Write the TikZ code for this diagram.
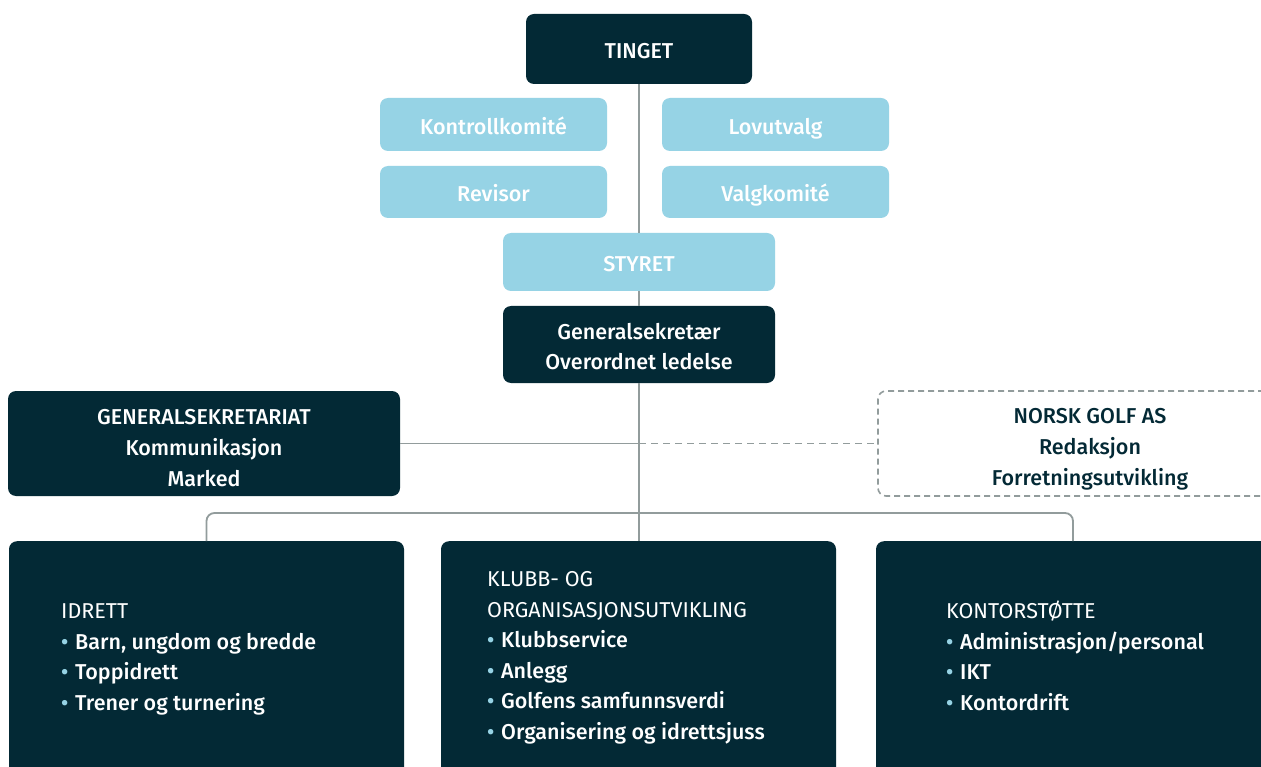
\documentclass[tikz,border=0pt]{standalone}
\usepackage{fontspec}
\setmainfont{Fira Sans}
\newfontfamily\med{Fira Sans Medium}
\definecolor{navy}{HTML}{032935}
\definecolor{lblue}{HTML}{96D3E5}
\definecolor{lgray}{HTML}{929C9C}
\newcommand{\itm}[1]{\strut\makebox[14pt][l]{\textcolor{lblue}{•}}#1}
\newcommand{\bs}{\rule[-5.5pt]{0pt}{31pt}}
\newcommand{\bsb}{\rule[-4pt]{0pt}{31pt}}
\newcommand{\bse}{\rule[-4pt]{0pt}{29.5pt}}
\tikzset{
  box/.style={rounded corners=8pt, inner sep=0pt, align=center, font=\med\fontsize{21.5}{31}\selectfont},
  darkbox/.style={box, fill=navy, text=white},
  lightbox/.style={box, fill=lblue, text=white},
  dashbox/.style={box, draw=lgray, line width=1.6pt, dash pattern=on 6pt off 4pt, text=navy},
  conn/.style={draw=lgray, line width=1.8pt},
  dconn/.style={conn, dash pattern=on 7pt off 5pt},
  list/.style={anchor=north west, inner sep=0pt, align=left, text=white, font=\fontsize{21.5}{30.5}\selectfont},
}
\begin{document}
\begin{tikzpicture}[x=1pt,y=-1pt]
\clip (0,0) rectangle (1261,767);
\fill[white] (0,0) rectangle (1261,767);
% top
\node[darkbox, minimum width=226pt, minimum height=70pt] (tinget) at (639,49) {\bs TINGET};
\node[lightbox, minimum width=227pt, minimum height=53pt] (kontroll) at (493.5,124.5) {\bs Kontrollkomité};
\node[lightbox, minimum width=227pt, minimum height=53pt] (lov) at (775.5,124.5) {\bs Lovutvalg};
\node[lightbox, minimum width=227pt, minimum height=52pt] (revisor) at (493.5,192) {\bs Revisor};
\node[lightbox, minimum width=227pt, minimum height=52pt] (valg) at (775.5,192) {\bs Valgkomité};
\node[lightbox, minimum width=272pt, minimum height=58pt] (styret) at (639,262) {\bs STYRET};
\node[darkbox, minimum width=272pt, minimum height=77pt] (gs) at (639,344.5) {\bs Generalsekretær\\\bs Overordnet ledelse};
% middle
\node[darkbox, minimum width=392pt, minimum height=105pt] (gsek) at (204,443.5) {\bsb GENERALSEKRETARIAT\\\bs Kommunikasjon\\\bse Marked};
\node[dashbox, minimum width=424pt, minimum height=105pt] (golf) at (1090,443.5) {\bsb NORSK GOLF AS\\\bs Redaksjon\\\bse Forretningsutvikling};
% bottom boxes (extend past the page edge)
\node[darkbox, minimum width=395pt, minimum height=260pt, anchor=north] (idrett) at (206.5,541) {};
\node[darkbox, minimum width=395pt, minimum height=260pt, anchor=north] (klubb) at (638.5,541) {};
\node[darkbox, minimum width=394pt, minimum height=260pt, anchor=north] (kontor) at (1073,541) {};
\node[list] (idrettT) at (61,597) {\strut IDRETT\\\med\itm{Barn, ungdom og bredde}\\\med\itm{Toppidrett}\\\med\itm{Trener og turnering}};
\node[list] (klubbT) at (487,565) {\strut KLUBB- OG\\\strut ORGANISASJONSUTVIKLING\\\med\itm{Klubbservice}\\\med\itm{Anlegg}\\\med\itm{Golfens samfunnsverdi}\\\med\itm{Organisering og idrettsjuss}};
\node[list] (kontorT) at (946,597) {\strut KONTORSTØTTE\\\med\itm{Administrasjon/personal}\\\med\itm{IKT}\\\med\itm{Kontordrift}};
% connectors
\coordinate (hub) at (tinget.south |- gsek.east);
\coordinate (bus) at (639,513);
\draw[conn] (tinget.south) -- (kontroll.east -| tinget.south);
\draw[conn] (kontroll.east -| tinget.south) -- (styret.north);
\draw[conn] (styret.south) -- (gs.north);
\draw[conn] (gs.south) -- (tinget.south |- klubb.north);
\draw[conn] (gsek.east) -- (hub);
\draw[dconn] (hub) -- (golf.west);
\draw[conn, rounded corners=8pt] (idrett.north) |- (bus) -| (kontor.north);
\end{tikzpicture}
\end{document}
